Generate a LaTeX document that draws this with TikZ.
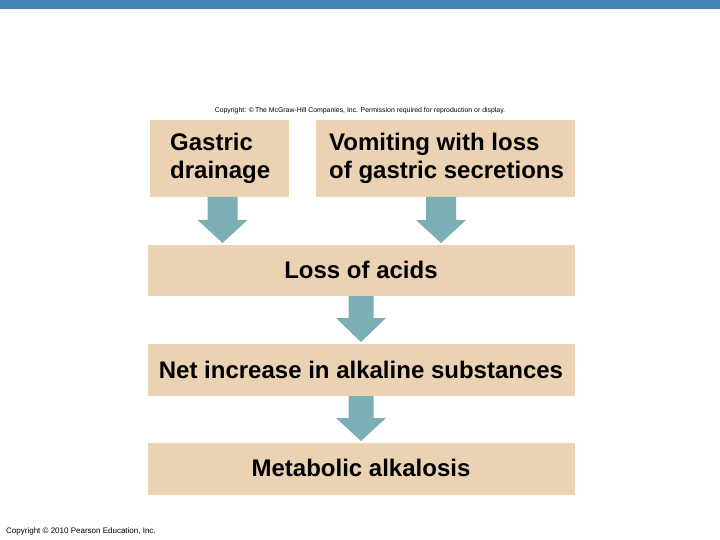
\documentclass[tikz,border=0pt]{standalone}
\usepackage{fontspec}
\setmainfont{Liberation Sans}
\definecolor{topbar}{RGB}{68,134,180}
\definecolor{tan}{RGB}{234,210,178}
\definecolor{teal}{RGB}{124,175,181}
\tikzset{
  box/.style={fill=tan, draw=none},
  lbl/.style={font=\bfseries\fontsize{24}{28}\selectfont, inner sep=0pt},
  note/.style={font=\fontsize{6.9}{7}\selectfont, inner sep=0pt},
  blockarrow/.style={fill=teal, draw=none}
}
\begin{document}
\begin{tikzpicture}[x=1pt,y=-1pt]
\useasboundingbox (0,0) rectangle (720,540);
\fill[topbar] (0,0) rectangle (720,9);
% boxes
\fill[box] (150,120) rectangle (289,197);
\fill[box] (316,120) rectangle (575,197);
\fill[box] (148,245) rectangle (575,296);
\fill[box] (148,344) rectangle (575,396);
\fill[box] (148,443) rectangle (575,495);
% labels
\node[lbl, anchor=west, align=left] (g) at (170,158.5) {Gastric\\drainage};
\node[lbl, anchor=west, align=left] (v) at (329,158.5) {Vomiting with loss\\of gastric secretions};
\node[lbl] (l) at (361,270) {Loss of acids};
\node[lbl] (n) at (361,370) {Net increase in alkaline substances};
\node[lbl] (m) at (361,468) {Metabolic alkalosis};
\node[note] (c1) at (360,111) {Copyright: \textcopyright\,The McGraw-Hill Companies, Inc. Permission required for reproduction or display.};
\node[note, font=\fontsize{8}{8}\selectfont, anchor=west] (c2) at (6,531) {Copyright \textcopyright\ 2010 Pearson Education, Inc.};
% arrows
\foreach \cx/\ya/\yb/\yc/\sw/\hw in {222.5/197/220/243/15/25, 441/197/220/243/15/25, 361/296/318/342/12.5/25, 361/396/418/441/12.5/25}{
  \fill[blockarrow] (\cx-\sw,\ya) -- (\cx+\sw,\ya) -- (\cx+\sw,\yb) -- (\cx+\hw,\yb) -- (\cx,\yc) -- (\cx-\hw,\yb) -- (\cx-\sw,\yb) -- cycle;
}
\end{tikzpicture}
\end{document}
